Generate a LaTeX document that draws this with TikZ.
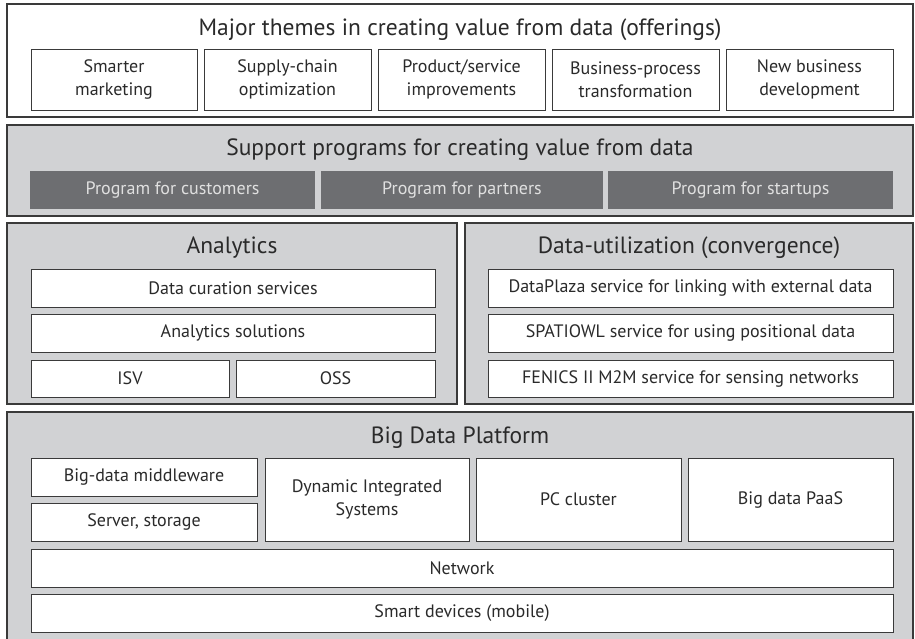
\documentclass[tikz,border=0pt]{standalone}
\usepackage{fontspec}
\setmainfont{PT Sans}
\definecolor{linec}{HTML}{3A3A3A}
\definecolor{panelgrey}{HTML}{D1D2D4}
\definecolor{darkbox}{HTML}{6D6E71}
\definecolor{txt}{HTML}{2A2A2A}
\tikzset{
  base/.style={inner sep=0pt, outer sep=0pt, align=center, text=txt},
  whitepanel/.style={base, draw=linec, fill=white, line width=1.1pt},
  greypanel/.style={base, draw=linec, fill=panelgrey, line width=1.1pt},
  itembox/.style={base, draw=linec, fill=white, line width=1pt, font=\fontsize{18}{23}\selectfont},
  progbox/.style={base, fill=darkbox, text=white!88!black, font=\fontsize{18}{22}\selectfont},
  paneltitle/.style={base, font=\fontsize{23.5}{28}\selectfont},
}
% \bx{name}{x1}{y1}{x2}{y2}{style}{text}
\newcommand{\bx}[7]{%
  \node[#6, minimum width={#4pt-#2pt}, minimum height={#5pt-#3pt}]
    (#1) at ({(#2+#4)/2},{(#3+#5)/2}) {#7};}
\begin{document}
\begin{tikzpicture}[x=1pt,y=-1pt]
\useasboundingbox (0,0) rectangle (915,638);
\clip (0,0) rectangle (915,638);
\fill[white] (0,0) rectangle (915,638);

% top panel
\bx{themes}{7}{4}{913}{117}{whitepanel}{}
\node[paneltitle] (themesT) at (460,30) {Major themes in creating value from data (offerings)};
\bx{t1}{31}{49}{197}{110}{itembox}{Smarter\\marketing}
\bx{t2}{204}{49}{371}{110}{itembox}{Supply-chain\\optimization}
\bx{t3}{378}{49}{545}{110}{itembox}{Product/service\\improvements}
\bx{t4}{552}{49}{719}{110}{itembox}{Business-process\\transformation}
\bx{t5}{726}{49}{893}{110}{itembox}{New business\\development}

% support programs
\bx{support}{7}{125}{913}{216}{greypanel}{}
\node[paneltitle] (supportT) at (460,150) {Support programs for creating value from data};
\bx{p1}{30}{171}{315}{209}{progbox}{Program for customers}
\bx{p2}{321}{171}{603}{209}{progbox}{Program for partners}
\bx{p3}{608}{171}{893}{209}{progbox}{Program for startups}

% analytics
\bx{analytics}{7}{223}{457}{404}{greypanel}{}
\node[paneltitle] (analyticsT) at (232,248) {Analytics};
\bx{a1}{31}{269}{435}{307}{itembox}{Data curation services}
\bx{a2}{31}{314}{435}{352}{itembox}{Analytics solutions}
\bx{a3}{31}{360}{229}{397}{itembox}{ISV}
\bx{a4}{236}{360}{435}{397}{itembox}{OSS}

% data utilization
\bx{datautil}{465}{223}{913}{404}{greypanel}{}
\node[paneltitle] (datautilT) at (689,248) {Data-utilization (convergence)};
\bx{d1}{488}{269}{893}{307}{itembox}{DataPlaza service for linking with external data}
\bx{d2}{488}{314}{893}{352}{itembox}{SPATIOWL service for using positional data}
\bx{d3}{488}{360}{893}{397}{itembox}{FENICS II M2M service for sensing networks}

% big data platform
\bx{bdp}{7}{412}{913}{660}{greypanel}{}
\node[paneltitle] (bdpT) at (460,438) {Big Data Platform};
\bx{b1}{31}{458}{257}{496}{itembox}{Big-data middleware}
\bx{b2}{31}{503}{257}{541}{itembox}{Server, storage}
\bx{b3}{265}{458}{469}{541}{itembox}{Dynamic Integrated\\Systems}
\bx{b4}{476}{458}{681}{541}{itembox}{PC cluster}
\bx{b5}{688}{458}{893}{541}{itembox}{Big data PaaS}
\bx{b6}{31}{549}{893}{587}{itembox}{Network}
\bx{b7}{31}{594}{893}{632}{itembox}{Smart devices (mobile)}
\end{tikzpicture}
\end{document}
